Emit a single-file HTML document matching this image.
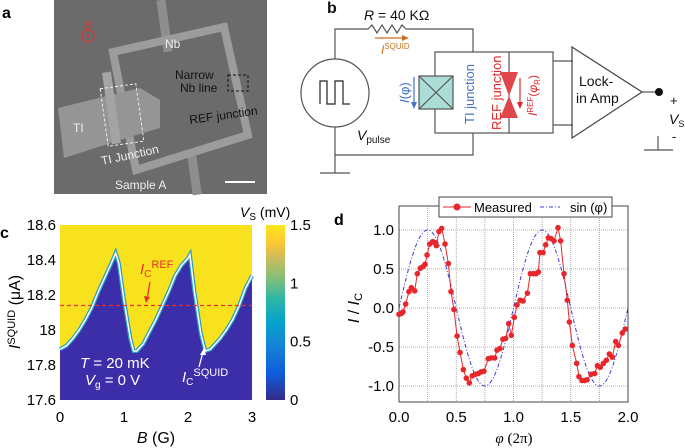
<!DOCTYPE html>
<html><head><meta charset="utf-8"><style>
body{margin:0;background:#fff;width:685px;height:448px;overflow:hidden}
svg{display:block;font-family:"Liberation Sans",sans-serif}
</style></head><body>
<svg width="685" height="448" viewBox="0 0 685 448">
<g>
<text x="2" y="18" font-size="16" font-weight="bold">a</text>
<rect x="54" y="0" width="213" height="194" fill="#6b6b6b"/>
<rect x="160" y="0" width="9" height="52" fill="#8e8e8e" transform="rotate(-8 164 26)"/>
<rect x="190" y="155" width="9" height="40" fill="#8e8e8e" transform="rotate(-8 194 175)"/>
<polygon points="113,52 224,27 248,135 136,170" fill="none" stroke="#9c9c9c" stroke-width="8"/>
<polygon points="58,108 140,88 160,100 160,128 120,140 64,158" fill="#959595"/>
<rect x="107" y="72" width="9" height="72" fill="#a4a4a4" transform="rotate(-8 111 108)"/>
<rect x="104" y="86" width="36" height="58" fill="none" stroke="#eee" stroke-dasharray="3,2" transform="rotate(-8 122 115)"/>
<rect x="228" y="75" width="20" height="16" fill="none" stroke="#111" stroke-dasharray="3,2"/>
<circle cx="88" cy="36" r="6" fill="none" stroke="#d33" stroke-width="1.2"/><circle cx="88" cy="36" r="1.3" fill="#d33"/>
<text x="84" y="29" font-size="11" fill="#d33" font-style="italic">B</text>
<text x="165" y="48" font-size="12" fill="#eee">Nb</text>
<text x="175" y="79" font-size="12" fill="#111">Narrow</text>
<text x="180" y="92" font-size="12" fill="#111">Nb line</text>
<text x="190" y="124" font-size="12" fill="#111" transform="rotate(-8 190 124)">REF junction</text>
<text x="73" y="132" font-size="12" fill="#eee">TI</text>
<text x="102" y="165" font-size="12" fill="#eee" transform="rotate(-12 102 165)">TI Junction</text>
<text x="115" y="189" font-size="12" fill="#eee">Sample A</text>
<line x1="225" y1="182" x2="255" y2="182" stroke="#fff" stroke-width="2"/>
</g>
<g fill="none" stroke="#555" stroke-width="1.2">
<text x="327" y="13" font-size="16" font-weight="bold" fill="#111" stroke="none">b</text>
<text x="364" y="20" font-size="14" fill="#111" stroke="none"><tspan font-style="italic">R</tspan> = 40 KΩ</text>
<polyline points="335,59 335,29 368,29 372,25 377,33 382,25 387,33 392,25 397,33 402,25 406,29 473,29 473,52"/>
<polyline points="335,127 335,155 473,155 473,133"/>
<line x1="335" y1="155" x2="335" y2="173"/><line x1="320" y1="173" x2="350" y2="173"/>
<circle cx="335" cy="93" r="34"/>
<polyline points="320,104 320,81 327,81 327,104 335,104 335,81 343,81 343,104 350,104" stroke="#222"/>
<text x="357" y="140" font-size="14" fill="#111" stroke="none" font-style="italic">V<tspan font-size="10" font-style="normal" dy="3">pulse</tspan></text>
<line x1="375" y1="38" x2="405" y2="38" stroke="#c9701e"/><polygon points="409,38 402,35 402,41" fill="#c9701e" stroke="none"/>
<text x="381" y="54" font-size="12" fill="#c9701e" stroke="none" font-style="italic">I<tspan font-size="8" font-style="normal" dy="-5">SQUID</tspan></text>
<rect x="435" y="52" width="118" height="81"/>
<line x1="509" y1="52" x2="509" y2="133"/>
<polyline points="553,61 573,61"/><polyline points="553,125 573,125"/>
<rect x="419" y="76" width="34" height="33" fill="#a9ddd6" stroke="#555"/>
<line x1="419" y1="76" x2="453" y2="109"/><line x1="453" y1="76" x2="419" y2="109"/>
<line x1="414" y1="77" x2="414" y2="104" stroke="#4472c4"/><polygon points="414,109 411,102 417,102" fill="#4472c4" stroke="none"/>
<text transform="translate(409,103) rotate(-90)" font-size="13" fill="#4472c4" stroke="none" font-style="italic">I<tspan font-style="normal">(φ)</tspan></text>
<text transform="translate(474,124) rotate(-90)" font-size="13" fill="#4472c4" stroke="none">TI junction</text>
<polygon points="500,72 518,72 509,96 518,118 500,118 509,96" fill="#e0474b" stroke="none"/>
<text transform="translate(501,130) rotate(-90)" font-size="13" fill="#e0262b" stroke="none">REF junction</text>
<line x1="520" y1="78" x2="520" y2="104" stroke="#e0262b"/><polygon points="520,109 517,102 523,102" fill="#e0262b" stroke="none"/>
<text transform="translate(537,116) rotate(-90)" font-size="12" fill="#e0262b" stroke="none" font-style="italic">I<tspan font-size="8" font-style="normal" dy="-4">REF</tspan><tspan font-style="normal" dy="4">(</tspan>φ<tspan font-size="8" font-style="normal" dy="3">R</tspan><tspan font-style="normal" dy="-3">)</tspan></text>
<polygon points="572,47 642,92 572,138" stroke="#444"/>
<text x="579" y="86" font-size="14" fill="#111" stroke="none">Lock-</text>
<text x="576" y="103" font-size="14" fill="#111" stroke="none">in Amp</text>
<line x1="642" y1="92" x2="658" y2="92"/><circle cx="659" cy="92" r="4" fill="#111" stroke="none"/>
<text x="670" y="105" font-size="13" fill="#111" stroke="none">+</text>
<text x="669" y="124" font-size="14" fill="#111" stroke="none" font-style="italic">V<tspan font-size="9" font-style="normal" dy="3">S</tspan></text>
<text x="672" y="141" font-size="13" fill="#111" stroke="none">-</text>
<line x1="658" y1="136" x2="658" y2="150"/><line x1="644" y1="150" x2="673" y2="150"/>
</g>
<g id="pc">
<text x="0" y="238" font-size="16" font-weight="bold">c</text>
<defs><linearGradient id="parula" x1="0" y1="1" x2="0" y2="0">
<stop offset="0" stop-color="#352a87"/><stop offset="0.15" stop-color="#0f5cdd"/><stop offset="0.3" stop-color="#1481d6"/><stop offset="0.45" stop-color="#06a4ca"/><stop offset="0.58" stop-color="#2eb7a4"/><stop offset="0.7" stop-color="#87bf77"/><stop offset="0.82" stop-color="#d1bb59"/><stop offset="0.9" stop-color="#fec832"/><stop offset="1" stop-color="#f9e81a"/></linearGradient></defs>
<rect x="266" y="225" width="19" height="175" fill="url(#parula)"/>
<text x="240" y="217" font-size="14" font-style="italic">V<tspan font-size="10" font-style="normal" dy="3">S</tspan><tspan font-style="normal" dy="-3"> (mV)</tspan></text>
</g>
<g id="pd">
<text x="334" y="225" font-size="16" font-weight="bold">d</text>
</g>
</svg>
<script>
const NS="http://www.w3.org/2000/svg";
function mk(p,t,a){const e=document.createElementNS(NS,t);for(const k in a)e.setAttribute(k,a[k]);p.appendChild(e);return e;}
const cB=[0,0.1,0.2,0.3,0.4,0.5,0.6,0.7,0.8,0.87,0.92,1.0,1.1,1.15,1.2,1.3,1.4,1.5,1.6,1.7,1.8,1.9,2.0,2.03,2.1,2.2,2.27,2.35,2.5,2.6,2.7,2.8,2.9,3.0];
const cIc=[17.89,17.91,17.95,18.0,18.06,18.13,18.22,18.3,18.38,18.44,18.38,18.17,17.95,17.88,17.88,17.92,17.99,18.06,18.14,18.22,18.31,18.37,18.41,18.43,18.22,17.98,17.88,17.89,17.95,18.0,18.06,18.14,18.24,18.31];
const cXTicks=[0,1,2,3];
const cYTicks=[17.6,17.8,18,18.2,18.4,18.6];
const cYTickLabels=["17.6","17.8","18","18.2","18.4","18.6"];
const cBarTicks=[0,0.5,1,1.5];
const cBarLabels=["0","0.5","1","1.5"];
const cRef=18.14;
const cx=b=>60+b*64, cy=v=>400-(v-17.6)*175, cbar=v=>400-v/1.5*175;
const pc=document.getElementById('pc');
let r=mk(pc,'rect',{x:60,y:225,width:192,height:175,fill:'#f7e21d'});


let pts=cB.map((b,i)=>cx(b)+','+cy(cIc[i])).join(' ');
let blue=mk(pc,'polygon',{points:cx(0)+','+cy(17.6)+' '+pts+' '+cx(3)+','+cy(17.6),fill:'#3b2ea8'});


let edge=mk(pc,'polyline',{points:pts,fill:'none',stroke:'#2a9fc0','stroke-width':4});


let wl=mk(pc,'polyline',{points:pts,fill:'none',stroke:'#fff','stroke-width':1.5});


let rl=mk(pc,'line',{x1:60,x2:252,y1:cy(cRef),y2:cy(cRef),stroke:'#e8332b','stroke-dasharray':'4,3','stroke-width':1.2});


cXTicks.forEach(t=>{let e=mk(pc,'text',{x:cx(t),y:422,'font-size':15,'text-anchor':'middle'});e.textContent=t;

});
cYTicks.forEach((t,i)=>{let e=mk(pc,'text',{x:56,y:cy(t)+5,'font-size':15,'text-anchor':'end'});e.textContent=cYTickLabels[i];

});
cBarTicks.forEach((t,i)=>{let e=mk(pc,'text',{x:290,y:cbar(t)+5,'font-size':15});e.textContent=cBarLabels[i];

});
let xt=mk(pc,'text',{x:156,y:443,'font-size':16,'text-anchor':'middle'});xt.innerHTML='<tspan font-style="italic">B</tspan> (G)';


let yt=mk(pc,'text',{transform:'translate(20,312) rotate(-90)','font-size':16,'text-anchor':'middle'});yt.innerHTML='<tspan font-style="italic">I</tspan><tspan font-size="11" dy="-5">SQUID</tspan><tspan dy="5"> (μA)</tspan>';


let a1=mk(pc,'text',{x:140,y:274,'font-size':15,fill:'#e8332b','font-style':'italic'});a1.innerHTML='I<tspan font-size="10" font-style="normal" dy="3">C</tspan><tspan font-size="11" font-style="normal" dy="-9">REF</tspan>';


mk(pc,'line',{x1:150,y1:282,x2:147,y2:299,stroke:'#e8332b','stroke-width':1.3});
mk(pc,'polygon',{points:'146,303 144,296 150,297',fill:'#e8332b'});
let a2=mk(pc,'text',{x:182,y:382,'font-size':15,fill:'#fff','font-style':'italic'});a2.innerHTML='I<tspan font-size="10" font-style="normal" dy="3">C</tspan><tspan font-size="11" font-style="normal" dy="-9">SQUID</tspan>';


mk(pc,'line',{x1:199,y1:367,x2:203,y2:352,stroke:'#fff','stroke-width':1.3});
mk(pc,'polygon',{points:'204,348 200,355 206,355',fill:'#fff'});
let t1=mk(pc,'text',{x:80,y:368,'font-size':15,fill:'#fff'});t1.innerHTML='<tspan font-style="italic">T</tspan> = 20 mK';
let t2=mk(pc,'text',{x:85,y:385,'font-size':15,fill:'#fff'});t2.innerHTML='<tspan font-style="italic">V</tspan><tspan font-size="10" dy="3">g</tspan><tspan dy="-3"> = 0 V</tspan>';
const dPhi=[0,0.02,0.035,0.058,0.087,0.108,0.137,0.16,0.186,0.21,0.227,0.245,0.268,0.294,0.311,0.326,0.349,0.373,0.402,0.431,0.454,0.48,0.507,0.533,0.562,0.588,0.614,0.64,0.667,0.693,0.716,0.742,0.78,0.806,0.836,0.856,0.882,0.908,0.932,0.958,0.981,1.007,1.031,1.057,1.083,1.121,1.147,1.173,1.197,1.217,1.231,1.258,1.281,1.304,1.328,1.354,1.389,1.412,1.441,1.47,1.488,1.514,1.552,1.572,1.598,1.622,1.642,1.677,1.709,1.733,1.758,1.785,1.811,1.837,1.863,1.892,1.916,1.95,1.977];
const dI=[-0.08,-0.07,-0.05,0.05,0.21,0.26,0.22,0.44,0.51,0.53,0.56,0.68,0.82,0.85,0.84,0.8,0.98,1.02,0.82,0.57,0.21,-0.02,-0.36,-0.57,-0.79,-0.9,-0.96,-0.87,-0.85,-0.84,-0.82,-0.81,-0.65,-0.64,-0.64,-0.54,-0.52,-0.4,-0.39,-0.2,-0.35,-0.12,0.04,0.1,0.09,0.19,0.44,0.44,0.44,0.46,0.71,0.71,0.81,0.9,0.89,0.86,1.03,0.86,0.44,0.1,-0.18,-0.48,-0.71,-0.88,-0.93,-0.93,-0.92,-0.85,-0.84,-0.74,-0.76,-0.71,-0.67,-0.59,-0.63,-0.43,-0.48,-0.32,-0.27];
const dXTicks=[0,0.5,1,1.5,2];
const dXTickLabels=["0.0","0.5","1.0","1.5","2.0"];
const dYTicks=[-1,-0.5,0,0.5,1];
const dYTickLabels=["-1.0","-0.5","0.0","0.5","1.0"];
const dGridX=[0.25,0.5,0.75,1,1.25,1.5,1.75];
const dx=p=>399+p*114.5, dy=v=>308-v*78;
const pd=document.getElementById('pd');
dGridX.forEach(g=>mk(pd,'line',{x1:dx(g),x2:dx(g),y1:206,y2:402,stroke:'#999','stroke-dasharray':'1,1','stroke-width':0.8}));
dYTicks.forEach(g=>mk(pd,'line',{x1:399,x2:628,y1:dy(g),y2:dy(g),stroke:'#999','stroke-dasharray':'1,1','stroke-width':0.8}));
let box=mk(pd,'rect',{x:399,y:206,width:229,height:196,fill:'none',stroke:'#444','stroke-width':1});


let sp=[];for(let i=0;i<=200;i++){const p=i/100;sp.push(dx(p)+','+dy(Math.sin(2*Math.PI*p)));}
let sl=mk(pd,'polyline',{points:sp.join(' '),fill:'none',stroke:'#3a3ad8','stroke-dasharray':'4,2,1,2','stroke-width':1});


let ml=mk(pd,'polyline',{points:dPhi.map((p,i)=>dx(p)+','+dy(dI[i])).join(' '),fill:'none',stroke:'#e8262b','stroke-width':1});


dPhi.forEach((p,i)=>{let c=mk(pd,'circle',{cx:dx(p),cy:dy(dI[i]),r:2.8,fill:'#e8262b'});

});
dXTicks.forEach((t,i)=>{let e=mk(pd,'text',{x:dx(t),y:422,'font-size':15,'text-anchor':'middle'});e.textContent=dXTickLabels[i];

});
dYTicks.forEach((t,i)=>{let e=mk(pd,'text',{x:394,y:dy(t)+5,'font-size':15,'text-anchor':'end'});e.textContent=dYTickLabels[i];

});
let dxt=mk(pd,'text',{x:514,y:443,'font-size':15,'text-anchor':'middle','font-family':'Liberation Serif, serif'});dxt.innerHTML='<tspan font-style="italic">φ</tspan> (2π)';


let dyt=mk(pd,'text',{transform:'translate(359,308) rotate(-90)','font-size':16,'text-anchor':'middle'});dyt.innerHTML='<tspan font-style="italic">I</tspan> / <tspan font-style="italic">I</tspan><tspan font-size="11" dy="3">C</tspan>';


let lg=mk(pd,'g',{});


mk(lg,'rect',{x:439,y:197,width:173,height:20,fill:'#fff',stroke:'#444'});
mk(lg,'line',{x1:443,x2:471,y1:207,y2:207,stroke:'#e8262b'});
mk(lg,'circle',{cx:457,cy:207,r:3.5,fill:'#e8262b'});
let lt1=mk(lg,'text',{x:474,y:212,'font-size':13});lt1.textContent='Measured';
mk(lg,'line',{x1:540,x2:560,y1:207,y2:207,stroke:'#3a3ad8','stroke-dasharray':'4,2,1,2'});
let lt2=mk(lg,'text',{x:570,y:212,'font-size':13});lt2.textContent='sin (φ)';
</script>
</body></html>
